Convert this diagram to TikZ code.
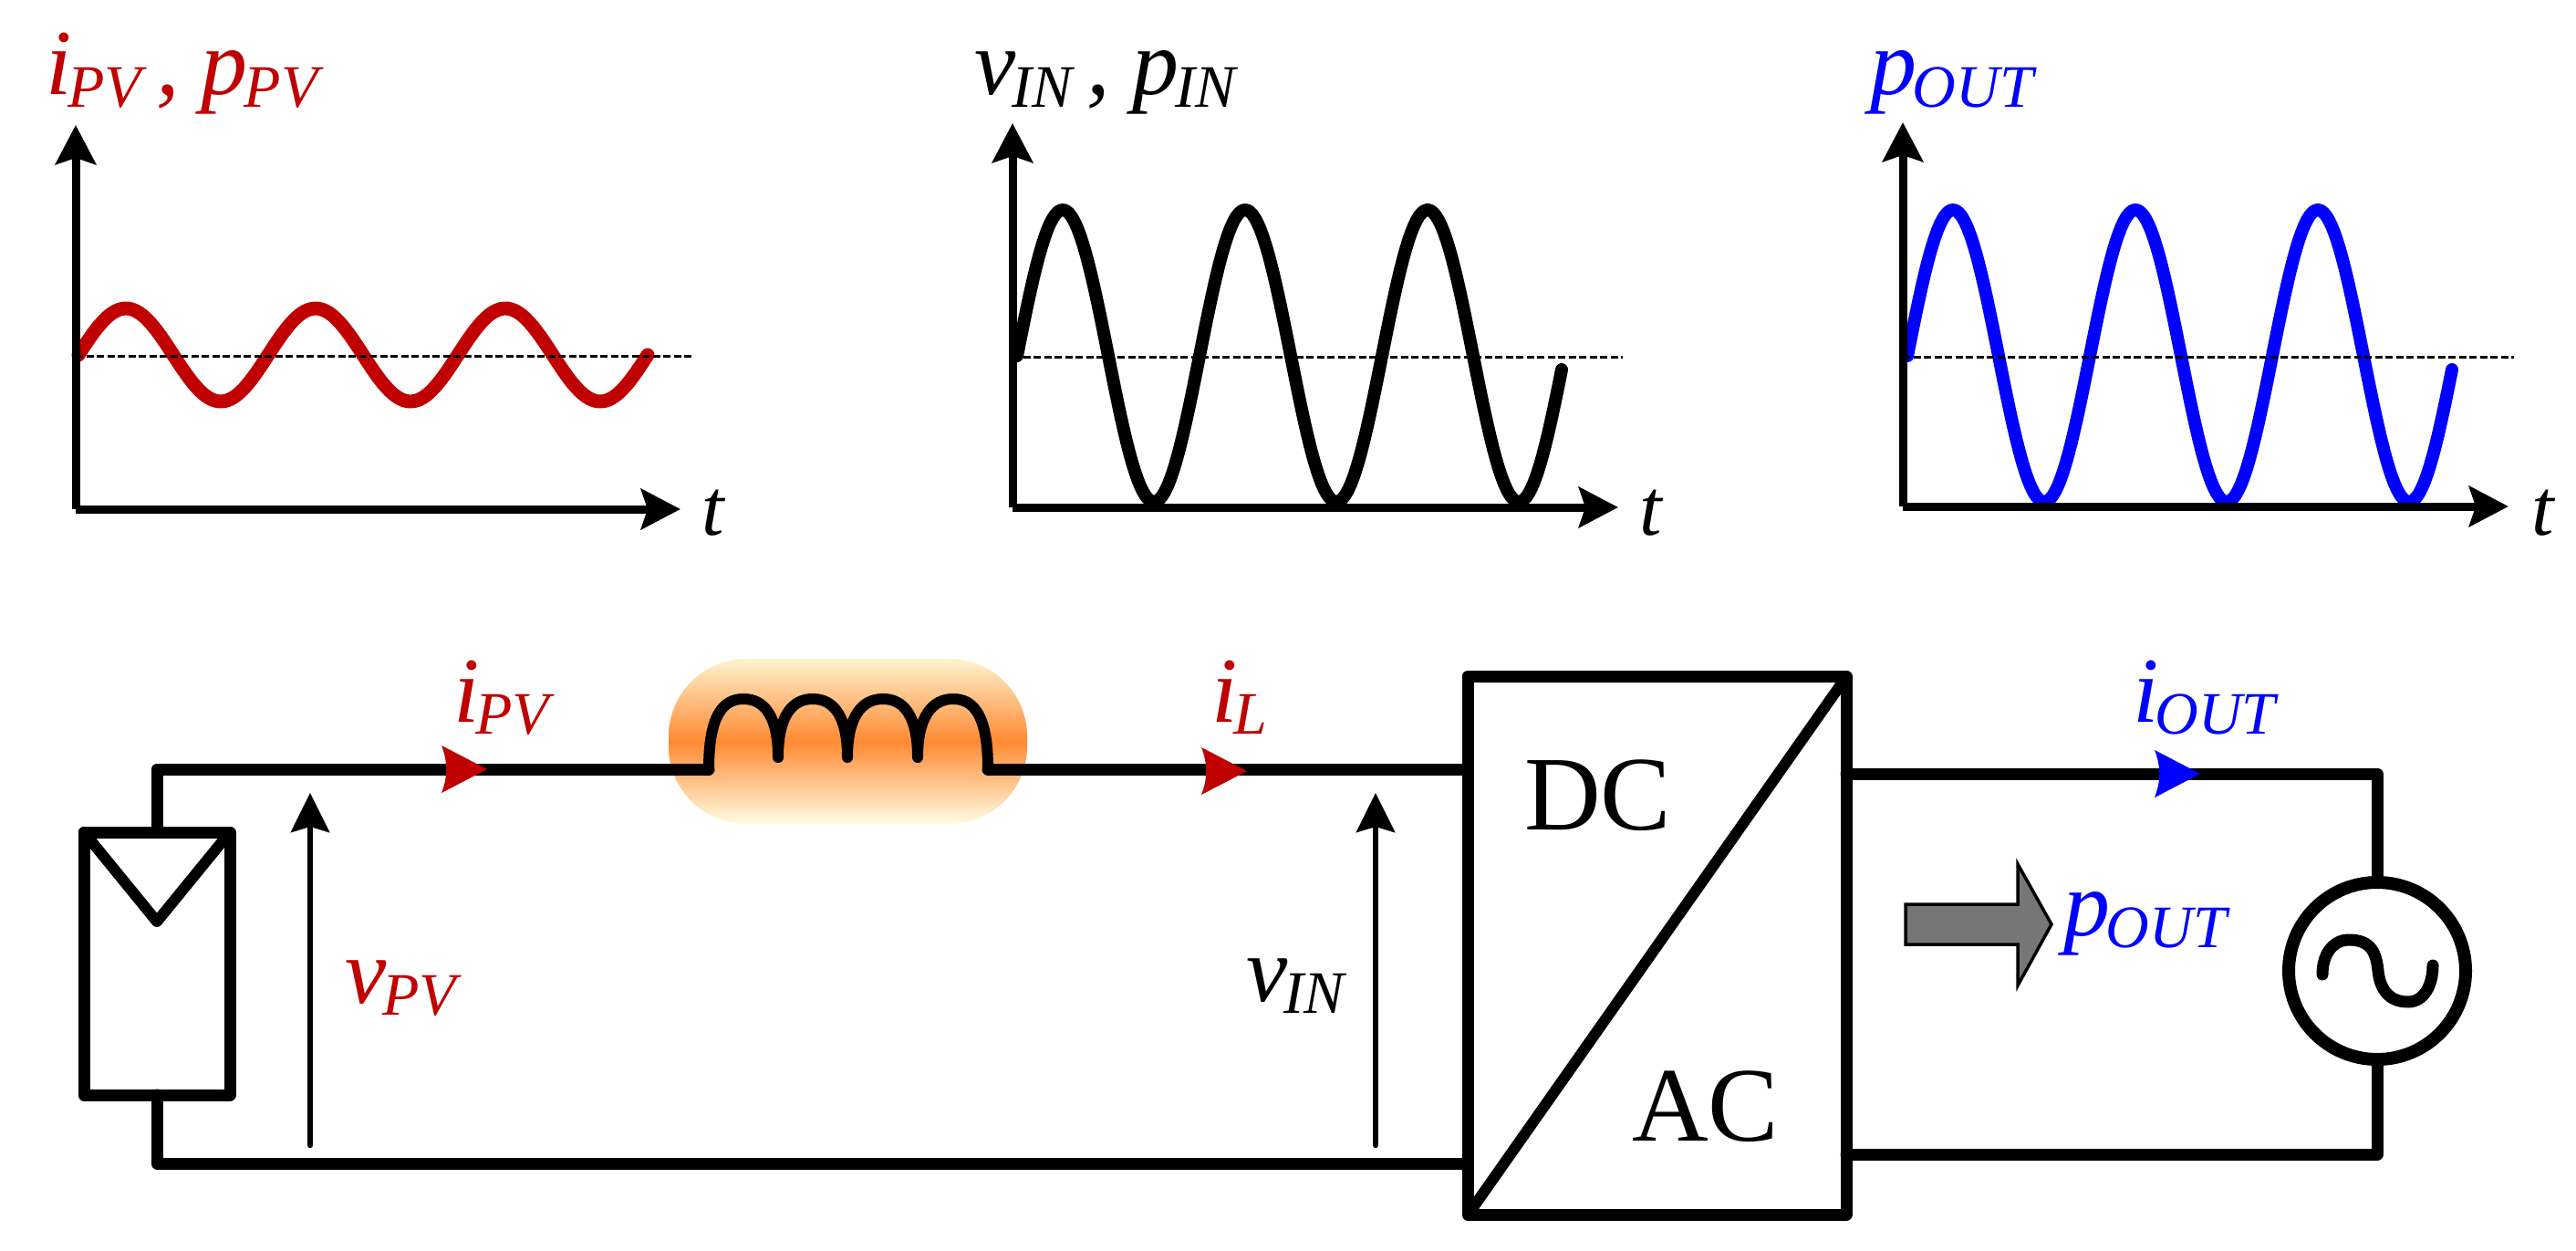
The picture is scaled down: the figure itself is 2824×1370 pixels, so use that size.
\documentclass[tikz,border=0pt]{standalone}
\usepackage{fontspec}
\setmainfont{Liberation Serif}
\usetikzlibrary{arrows.meta,calc}
\definecolor{rd}{HTML}{C00000}
\definecolor{bl}{HTML}{0000FF}
\definecolor{gr}{HTML}{767676}
\definecolor{glowtop}{HTML}{FDF3CF}
\definecolor{glowmid}{HTML}{FF8A33}
\definecolor{glowbot}{HTML}{FFFDE3}
% 1 reference pixel = 0.1mm
\newcommand{\mainf}{\fontsize{29pt}{32pt}\selectfont\itshape}
\newcommand{\subf}{\fontsize{18.8pt}{20pt}\selectfont\itshape}
\newcommand{\tf}{\fontsize{25pt}{27pt}\selectfont\itshape}
\newcommand{\vs}[2]{{\mainf #1}\kern-0.4mm\raisebox{-1.35mm}{\subf #2}}
\tikzset{
  x=0.1mm,y=-0.1mm,
  lab/.style={inset,anchor=base west},
  inset/.style={inner sep=0pt,outer sep=0pt},
  wire/.style={line width=1.3mm,line join=round,line cap=round},
  axis/.style={line width=0.9mm,line join=round,-{Stealth[length=4.3mm,width=4.4mm,inset=0.7mm]}},
  volt/.style={line width=0.65mm,line cap=round,-{Stealth[length=4.3mm,width=4.2mm,inset=0.6mm]}},
  wave/.style={line width=1.4mm,line cap=round,line join=round},
  mean/.style={line width=0.3mm,dash pattern=on 0.8mm off 0.35mm},
  box/.style={draw,inset,line width=1.3mm,line join=round},
  flowtip/.pic={\fill (0,0) -- (-50,-26) .. controls (-43,-8) and (-43,8) .. (-50,26) -- cycle;}
}
\begin{document}
\begin{tikzpicture}
\useasboundingbox (0,0) rectangle (2824,1370);

% --- plot 1
\coordinate (o1) at (83,558);
\coordinate (y1) at (83,137);
\coordinate (x1) at (746,558);
\coordinate (ma1) at (83,390);
\coordinate (mb1) at (758,390);
\draw[wave,rd,line width=1.5mm] plot[domain=86:710,samples=160,variable=\t] ({\t},{389-51*sin(1.7308*(\t-86))});
\draw[mean] (ma1) -- (mb1);
\draw[axis] (o1) -- (y1);
\draw[axis] (o1) -- (x1);
\node[lab,rd] (t1lab) at (50,104) {\vs{i}{PV}{\subf\ }{\mainf ,}\kern2.4mm{\mainf p}\kern-0.4mm\raisebox{-1.35mm}{\subf PV}};
\node[lab] (t1) at (769,586) {\tf t};

% --- plot 2
\coordinate (o2) at (1110,556);
\coordinate (y2) at (1110,135);
\coordinate (x2) at (1774,556);
\coordinate (ma2) at (1110,391);
\coordinate (mb2) at (1779,391);
\draw[wave,black] plot[domain=1115:1712,samples=200,variable=\t] ({\t},{390-160*sin(1.8*(\t-1115))});
\draw[mean] (ma2) -- (mb2);
\draw[axis] (o2) -- (y2);
\draw[axis] (o2) -- (x2);
\node[lab] (t2lab) at (1068,104) {\vs{v}{IN}{\subf\ }{\mainf ,}\kern2.4mm{\mainf p}\kern-0.4mm\raisebox{-1.35mm}{\subf IN}};
\node[lab] (t2) at (1797,586) {\tf t};

% --- plot 3
\coordinate (o3) at (2086,555);
\coordinate (y3) at (2086,134);
\coordinate (x3) at (2750,555);
\coordinate (ma3) at (2086,391);
\coordinate (mb3) at (2756,391);
\draw[wave,bl] plot[domain=2091:2688,samples=200,variable=\t] ({\t},{390-160*sin(1.8*(\t-2091))});
\draw[mean] (ma3) -- (mb3);
\draw[axis] (o3) -- (y3);
\draw[axis] (o3) -- (x3);
\node[lab,bl] (t3lab) at (2050,104) {\vs{p}{OUT}};
\node[lab] (t3) at (2775,586) {\tf t};

% --- circuit elements
\shade[top color=glowtop,bottom color=glowbot,middle color=glowmid,rounded corners=8.5mm]
  (733,722) rectangle (1126,903);
\node[box,minimum width=16mm,minimum height=28.8mm] (pv) at (172,1056) {};
\node[box,minimum width=41.5mm,minimum height=59mm] (conv) at (1816.5,1036) {};
\node[draw,circle,inset,line width=1.4mm,minimum size=19.4mm] (src) at (2606,1064) {};

\coordinate (L1) at (777,843);
\coordinate (L2) at (1083,843);
\coordinate (b1) at (1609,1275);
\coordinate (out1) at (2024,848);
\coordinate (out2) at (2024,1265);
\coordinate (apex) at (172,1010);

% PV symbol
\draw[wire,line width=1.2mm] (pv.north west) -- (apex) -- (pv.north east);

% wires
\draw[wire] (pv.north) |- (L1);
\draw[wire] (L2) -- (L2 -| conv.west);
\draw[wire] (pv.south) |- (b1);
\draw[wire] (out1) -| (src.north);
\draw[wire] (out2) -| (src.south);

% inductor
\draw[wire,line width=1.2mm] (L1)
  .. controls (777,785) and (792,766) .. (815,766)
  .. controls (838,766) and (853,785) .. (853,830)
  .. controls (853,785) and (868,766) .. (891,766)
  .. controls (914,766) and (929,785) .. (929,830)
  .. controls (929,785) and (945,766) .. (968,766)
  .. controls (991,766) and (1006,785) .. (1006,830)
  .. controls (1006,785) and (1022,766) .. (1045,766)
  .. controls (1068,766) and (1083,785) .. (L2);

% current markers
\coordinate (f1) at (534,843);
\coordinate (f2) at (1367,845);
\coordinate (f3) at (2412,848);
\pic[rd] at (f1) {flowtip};
\pic[rd] at (f2) {flowtip};
\pic[bl] at (f3) {flowtip};

% voltage arrows
\coordinate (va) at (340,1255);
\coordinate (vb) at (340,869);
\coordinate (vc) at (1508,1255);
\coordinate (vd) at (1508,869);
\draw[volt] (va) -- (vb);
\draw[volt] (vc) -- (vd);

% converter diagonal
\draw[line width=1.2mm] ($(conv.south west)+(4,-5)$) -- ($(conv.north east)+(-3,5)$);
\node[lab] (dc) at (1671,909) {\fontsize{33pt}{36pt}\selectfont DC};
\node[lab] (ac) at (1789,1250) {\fontsize{33pt}{36pt}\selectfont AC};

% AC source sine
\draw[wire,line width=1.3mm] (2546,1068)
  .. controls (2546,1045) and (2558,1030) .. (2575,1030)
  .. controls (2600,1030) and (2605,1045) .. (2607,1064)
  .. controls (2609,1083) and (2618,1098) .. (2640,1098)
  .. controls (2657,1098) and (2667,1080) .. (2667,1058);

% power arrow
\draw[fill=gr,line width=0.35mm,line join=miter]
  (2089,991) -- (2212,991) -- (2212,947) -- (2249,1013) -- (2212,1080) -- (2212,1035) -- (2089,1035) -- cycle;

% labels
\node[lab,rd] (lipv) at (497,791) {\vs{i}{PV}};
\node[lab,rd] (lvpv) at (378,1099) {\vs{v}{PV}};
\node[lab,rd] (lil) at (1328,791) {\vs{i}{L}};
\node[lab] (lvin) at (1366,1097) {\vs{v}{IN}};
\node[lab,bl] (liout) at (2338,791) {\vs{i}{OUT}};
\node[lab,bl] (lpout) at (2262,1025) {\vs{p}{OUT}};
\end{tikzpicture}
\end{document}
